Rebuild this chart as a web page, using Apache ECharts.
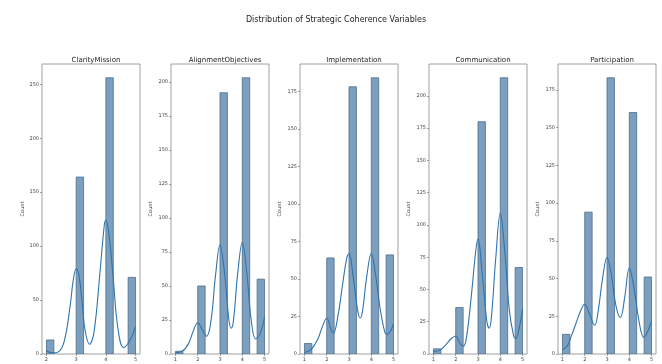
<!DOCTYPE html>
<html><head><meta charset="utf-8">
<script src="https://cdn.jsdelivr.net/npm/echarts@6/dist/echarts.min.js"></script>
<style>html,body{margin:0;padding:0;background:#fff}#c{width:662px;height:364px}</style>
</head><body><div id="c"></div>
<script>
const mainTitle = 'Distribution of Strategic Coherence Variables';
const titles = ['ClarityMission', 'AlignmentObjectives', 'Implementation', 'Communication', 'Participation'];

// histogram bins [left edge, right edge]
const bins1 = [[2, 2.25], [3, 3.25], [4, 4.25], [4.75, 5]];
const binsOther = [[1, 1.3333], [2, 2.3333], [3, 3.3333], [4, 4.3333], [4.6667, 5]];

// counts per bin
const counts1 = [13, 164, 256, 71];
const counts2 = [2, 50, 192, 203, 55];
const counts3 = [7, 64, 178, 184, 66];
const counts4 = [4, 36, 180, 214, 67];
const counts5 = [13, 94, 183, 160, 51];

// KDE curves: [x, count]
const kde1 = [[2.0,3],[2.2,1],[2.4,2],[2.6,12],[2.8,45],[2.9,68],[3.0,79],[3.1,72],[3.2,48],[3.3,22],[3.45,9],[3.6,20],[3.8,75],[3.95,120],[4.0,124],[4.1,112],[4.25,70],[4.4,25],[4.6,6],[4.8,12],[5.0,25]];
const kde2 = [[1.0,1],[1.3,2],[1.6,8],[1.8,17],[2.0,23],[2.2,18],[2.4,13],[2.6,25],[2.8,58],[3.0,80],[3.2,60],[3.4,25],[3.5,19],[3.6,24],[3.8,60],[4.0,82],[4.2,60],[4.4,25],[4.6,11],[4.8,15],[5.0,27]];
const kde3 = [[1.0,1],[1.3,3],[1.6,10],[1.8,18],[2.0,24],[2.2,16],[2.3,14],[2.5,25],[2.7,45],[2.9,64],[3.0,67],[3.2,50],[3.4,28],[3.5,24],[3.6,28],[3.8,52],[4.0,67],[4.2,52],[4.4,30],[4.6,15],[4.7,13],[4.85,15],[5.0,20]];
const kde4 = [[1.0,2],[1.3,3],[1.6,8],[1.8,12],[2.0,14],[2.2,8],[2.35,6],[2.5,15],[2.7,45],[2.9,80],[3.0,89],[3.2,60],[3.4,25],[3.5,20],[3.6,28],[3.8,75],[4.0,109],[4.2,80],[4.4,35],[4.6,14],[4.7,12],[4.85,20],[5.0,35]];
const kde5 = [[1.0,3],[1.2,5],[1.4,12],[1.6,20],[1.8,28],[2.0,33],[2.2,27],[2.45,19],[2.6,28],[2.8,50],[3.0,64],[3.2,52],[3.4,32],[3.6,24],[3.8,38],[4.0,57],[4.2,45],[4.4,25],[4.65,11],[4.8,14],[5.0,22]];

// tick labels
const xTicks1 = [2, 3, 4, 5];
const xTicksOther = [1, 2, 3, 4, 5];
const yTicks1 = [0, 50, 100, 150, 200, 250];
const yTicks2 = [0, 25, 50, 75, 100, 125, 150, 175, 200];
const yTicks3 = [0, 25, 50, 75, 100, 125, 150, 175];
const yTicks4 = [0, 25, 50, 75, 100, 125, 150, 175, 200];
const yTicks5 = [0, 25, 50, 75, 100, 125, 150, 175];

const panels = [
  {bins: bins1, counts: counts1, kde: kde1, xt: xTicks1, yt: yTicks1},
  {bins: binsOther, counts: counts2, kde: kde2, xt: xTicksOther, yt: yTicks2},
  {bins: binsOther, counts: counts3, kde: kde3, xt: xTicksOther, yt: yTicks3},
  {bins: binsOther, counts: counts4, kde: kde4, xt: xTicksOther, yt: yTicks4},
  {bins: binsOther, counts: counts5, kde: kde5, xt: xTicksOther, yt: yTicks5}
];

const lefts = [42, 171, 300, 429, 558];
const gw = 98, gTop = 64, gBottom = 10;
const font = 'DejaVu Sans';

const grid = [], xAxis = [], yAxis = [], series = [];
const title = [{text: mainTitle, left: 331, top: 11, textAlign: 'center',
  textStyle: {fontSize: 8, fontWeight: 'normal', color: '#222', fontFamily: font}}];

panels.forEach((p, i) => {
  const xmin = p.xt[0], xmax = p.xt[p.xt.length - 1];
  const pad = (xmax - xmin) * 0.05;
  const ymax = Math.max.apply(null, p.counts) * 1.05;
  grid.push({left: lefts[i], width: gw, top: gTop, bottom: gBottom, show: true,
    borderColor: '#888', borderWidth: 0.8, backgroundColor: 'transparent'});
  title.push({text: titles[i], left: lefts[i] + gw / 2, top: 52, textAlign: 'center',
    textStyle: {fontSize: 7, fontWeight: 'normal', color: '#222', fontFamily: font}});
  xAxis.push({type: 'value', gridIndex: i, min: xmin - pad, max: xmax + pad,
    axisLine: {show: false}, splitLine: {show: false},
    axisTick: {show: true, length: 2, lineStyle: {color: '#666', width: 0.6}, customValues: p.xt},
    axisLabel: {fontSize: 5, color: '#444', fontFamily: font, margin: 3, customValues: p.xt}});
  yAxis.push({type: 'value', gridIndex: i, min: 0, max: ymax,
    name: 'Count', nameLocation: 'middle', nameGap: i === 0 ? 17 : 18,
    nameTextStyle: {fontSize: 5, color: '#444', fontFamily: font},
    axisLine: {show: false}, splitLine: {show: false},
    axisTick: {show: true, length: 2, lineStyle: {color: '#666', width: 0.6}, customValues: p.yt},
    axisLabel: {fontSize: 5, color: '#444', fontFamily: font, margin: 3, customValues: p.yt}});
  const barData = p.bins.map((b, k) => [b[0], b[1], p.counts[k]]);
  series.push({type: 'custom', xAxisIndex: i, yAxisIndex: i, data: barData, clip: true,
    encode: {x: [0, 1], y: 2},
    renderItem: function (params, api) {
      const a = api.coord([api.value(0), api.value(2)]);
      const b = api.coord([api.value(1), 0]);
      return {type: 'rect', shape: {x: a[0], y: a[1], width: b[0] - a[0], height: b[1] - a[1]},
        style: {fill: '#7c9fbf', stroke: '#4d6d8a', lineWidth: 0.8}};
    }});
  series.push({type: 'line', xAxisIndex: i, yAxisIndex: i, data: p.kde, smooth: 0.4,
    showSymbol: false, silent: true, z: 5,
    lineStyle: {color: '#2f74ad', width: 1.1}});
});

const chart = echarts.init(document.getElementById('c'), null, {renderer: 'canvas'});
chart.setOption({backgroundColor: '#fff', animation: false, title, grid, xAxis, yAxis, series});
</script></body></html>
